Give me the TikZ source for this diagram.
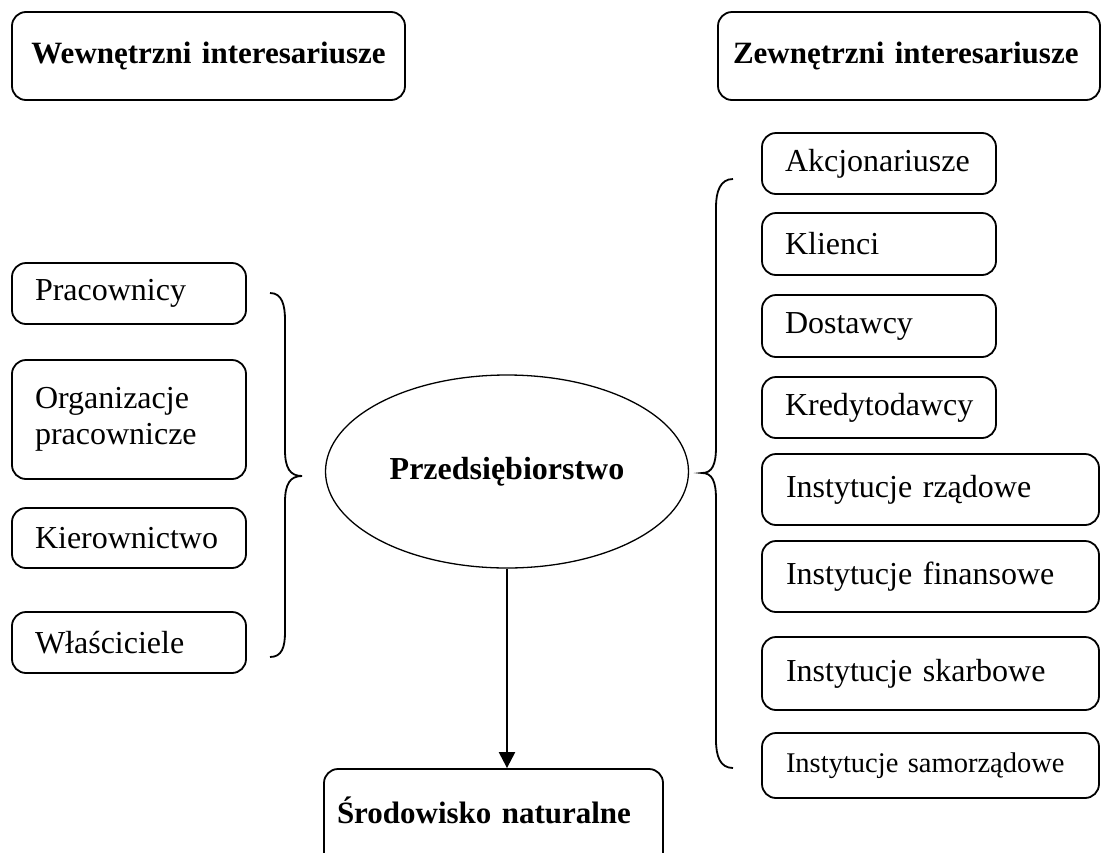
\documentclass[tikz,border=0pt]{standalone}
\usepackage{fontspec}
\setmainfont{Liberation Serif}
\usetikzlibrary{shapes.geometric,arrows.meta}
\tikzset{
  box/.style={draw, rounded corners=14pt, line width=1.8pt, inner ysep=0pt, align=left,
    font=\fontsize{32}{36}\selectfont},
  headbox/.style={box, font=\fontsize{31}{36}\selectfont\bfseries},
  lbox/.style={box, inner xsep=23pt, text width=188pt},
  rbox/.style={box, inner xsep=23pt, text width=188pt},
  wbox/.style={box, inner xsep=24pt, text width=289pt},
  bracestyle/.style={line width=1.8pt},
  arr/.style={line width=2.2pt, -{Triangle[width=16pt,length=16pt]}}
}
\begin{document}
\begin{tikzpicture}[x=1pt,y=-1pt]
\useasboundingbox (0,0) rectangle (1101,852);
% headers
\node[headbox, align=center, inner xsep=8pt, text width=377pt, minimum height=88pt] (win) at (208.5,56) {\mbox{Wewnętrzni interesariusze}};
\node[headbox, inner xsep=15pt, text width=352pt, minimum height=88pt] (zin) at (909,56) {\mbox{Zewnętrzni interesariusze}};
% left boxes
\node[lbox, minimum height=61pt] (prac) at (129,293.5) {Pracownicy};
\node[lbox, minimum height=119pt] (org) at (129,419.5) {Organizacje\\pracownicze};
\node[lbox, minimum height=60pt] (kier) at (129,538) {Kierownictwo};
\node[lbox, minimum height=61pt] (wlas) at (129,642.5) {Właściciele};
% right boxes
\node[rbox, minimum height=61pt] (akc) at (879,163.5) {Akcjonariusze};
\node[rbox, minimum height=62pt] (kli) at (879,244) {Klienci};
\node[rbox, minimum height=62pt] (dos) at (879,326) {Dostawcy};
\node[rbox, minimum height=61pt] (kre) at (879,407.5) {Kredytodawcy};
\node[wbox, minimum height=71pt] (rza) at (930.5,489.5) {Instytucje rządowe};
\node[wbox, minimum height=71pt] (fin) at (930.5,576.5) {Instytucje finansowe};
\node[wbox, minimum height=73pt] (ska) at (930.5,673.5) {Instytucje skarbowe};
\node[wbox, minimum height=65pt, font=\fontsize{28.5}{32}\selectfont] (sam) at (930.5,765.5) {Instytucje samorządowe};
% centre
\node[draw, ellipse, line width=1.3pt, minimum width=363pt, minimum height=193pt, inner sep=0pt,
  font=\fontsize{32}{36}\selectfont\bfseries] (firm) at (507,471.5) {Przedsiębiorstwo};
\node[headbox, inner xsep=13pt, text width=313pt, minimum height=100pt] (sro) at (493.5,819) {\raisebox{17pt}{Środowisko naturalne}};
\draw[arr] (firm.south) -- (firm.south |- sro.north);
% braces
\draw[bracestyle] (270,293) .. controls (282,293) and (285,305) .. (285,320) -- (285,450)
  .. controls (285,468) and (290,476) .. (302,476)
  .. controls (290,476) and (285,484) .. (285,502) -- (285,632)
  .. controls (285,647) and (282,657) .. (270,657);
\draw[bracestyle] (733,179) .. controls (720,179) and (716,192) .. (716,207) -- (716,447)
  .. controls (716,465) and (712,473) .. (702,473)
  .. controls (712,473) and (716,481) .. (716,499) -- (716,740)
  .. controls (716,756) and (720,768) .. (733,768);
\end{tikzpicture}
\end{document}
